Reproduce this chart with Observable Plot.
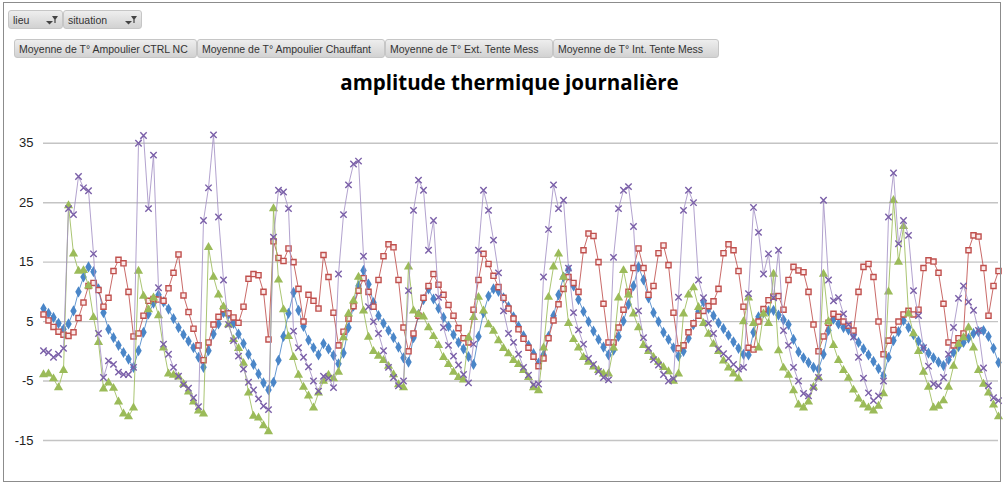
<!DOCTYPE html>
<html><head><meta charset="utf-8">
<script src="https://cdn.jsdelivr.net/npm/d3@7"></script>
<script src="https://cdn.jsdelivr.net/npm/@observablehq/plot@0.6"></script>
<style>
body{margin:0;background:#fff;font-family:"Liberation Sans",Arial,sans-serif;}
#wrap{position:relative;width:1005px;height:486px;overflow:hidden;background:#fff;}
#frame{position:absolute;left:3px;top:2px;width:996px;height:478px;border:1px solid #8c8c8c;pointer-events:none;}
.btn{position:absolute;height:19px;line-height:18px;font-size:10.5px;color:#333;background:linear-gradient(#eeeeee,#d2d2d2);border:1px solid #c6c6c6;border-radius:3px;box-sizing:border-box;padding-left:4px;white-space:nowrap;overflow:hidden;}
.btn svg{position:absolute;right:3px;top:3px;}
#title{position:absolute;left:0;width:1019px;top:68px;text-align:center;font-family:"Open Sans","Liberation Sans",sans-serif;font-weight:bold;font-size:20.5px;color:#000;white-space:nowrap;}
#chart{position:absolute;left:0;top:100px;}
</style></head>
<body>
<div id="wrap">
  <div class="btn" style="left:8px;top:10px;width:55px;">lieu<svg width="14" height="12"><path d="M1 7 L4.5 10.5 L8 7Z" fill="#444"/><path d="M7 2 L13 2 L10.6 5.5 L10.6 9 L9.4 9 L9.4 5.5Z" fill="#444"/></svg></div>
  <div class="btn" style="left:63px;top:10px;width:79px;">situation<svg width="14" height="12"><path d="M1 7 L4.5 10.5 L8 7Z" fill="#444"/><path d="M7 2 L13 2 L10.6 5.5 L10.6 9 L9.4 9 L9.4 5.5Z" fill="#444"/></svg></div>
  <div id="legendRow"></div>
  <div id="title">amplitude thermique journalière</div>
  <div id="chart"></div>
  <div id="frame"></div>
</div>
<script>
const seriesNames = [
  "Moyenne de T° Ampoulier CTRL NC",
  "Moyenne de T° Ampoulier Chauffant",
  "Moyenne de T° Ext. Tente Mess",
  "Moyenne de T° Int. Tente Mess"
];
const yTicks = [-15, -5, 5, 15, 25, 35];

const ctrl = [
  7.2, 6.4, 5.7, 4.7, 3.7, 4.6, 6.8, 10, 12.5, 14.2,
  13.4, 10.5, 6.5, 3.7, 2.3, 1.0, -0.2, -1.3, -2.7, 0.1,
  3.2, 6.3, 8.1, 9.5, 8.3, 7.1, 5.5, 4.0, 2.8, 1.7,
  0.6, -1.0, -2.7, 0.1, 2.9, 4.6, 6.5, 6.2, 4.7, 2.9,
  1.3, -0.5, -2.2, -3.8, -5.3, -6.5, -5.2, -1.5, 2.5, 6.4,
  9.9, 6.9, 4.2, 1.9, 0.6, -0.6, 1.3, 0.4, -0.7, -2.1,
  -0.3, 4.0, 7.6, 11, 13.6, 11.3, 8.2, 6.0, 4.7, 3.5,
  2.3, 0.7, -1.1, -1.8, 2.3, 6.2, 8.7, 10.5, 8.8, 7.2,
  5.7, 4.2, 2.8, 1.5, 0.4, -0.9, -2.2, 2.5, 6.5, 9.3,
  10.5, 10.1, 9.0, 7.5, 5.8, 4.2, 2.6, 1.0, -0.4, -2.0,
  -0.6, 2.5, 6.0, 9.5, 12.5, 13.8, 11, 8.7, 6.7, 5.0,
  3.4, 2.0, 0.7, -0.6, 0.2, 2.5, 5.1, 7.9, 11, 14.2,
  12, 9, 6.5, 5, 3.2, 2.0, 0.6, -0.8, 0.0, 2.2,
  4.5, 6.7, 8.3, 7.2, 6, 4.8, 3.8, 2.7, 1.6, 0.5,
  -0.5, -0.6, 3.2, 5.8, 6.5, 6.8, 6.9, 6.1, 5.3, 4.5,
  2.0, -0.1, -1.1, -1.9, -2.7, -3.0, -0.5, 3.5, 5.4, 4.6,
  4.0, 3.6, 2.7, 1.5, 0.4, -0.6, -1.7, -2.9, -4.1, -1.0,
  1.8, 3.3, 5.2, 4.0, 2.8, 1.7, 0.6, -0.3, -1.1, -1.8,
  -2.4, -1.4, -0.2, 0.8, 1.5, 2.2, 3.0, 3.3, 3.5, 2.5,
  0.5, -1.9
];
const chauffant = [
  6.2, 5.2, 4.1, 3.3, 2.8, 2.6, 3.2, 5.6, 8.2, 11,
  11.5, 10.3, 7.5, 9, 13.5, 15.4, 14.8, 10, 2.5, 3,
  6, 8.5, 8.8, 8.7, 8.5, 10.6, 13.2, 16.3, 9.4, 6.6,
  3.8, 1.0, -1.5, 1.5, 4.5, 5.8, 7.1, 6.4, 5.7, 4.8,
  7.5, 12.2, 13.0, 12.8, 10, 2, 18.5, 15.7, 15.2, 17.3,
  15, 10.5, 5, 9.5, 8.5, 7.2, 16.2, 12.5, 6.5, 1,
  3.3, 5.5, 7.6, 10.2, 12.3, 10, 7.5, 12, 16, 18,
  17.5, 12, 4, 0, 3, 6, 9, 11, 13, 11.2,
  9.5, 7.8, 6, 3.9, 2.2, 1.5, 7, 12, 16.4, 14.7,
  12.7, 10.8, 9.0, 7.2, 5.5, 3.7, 2.1, 0.6, -0.9, -2.5,
  -1.2, 2.2, 5.2, 7.9, 10.5, 12.5, 11.5, 10, 17, 19.8,
  19.4, 15, 8, 1.5, 1.5, 4, 7, 10, 14, 17.3,
  14, 9.5, 11, 16.5, 17.8, 14.5, 6.5, 0.5, 1, 3.2,
  4.7, 6, 6.8, 7.6, 8.4, 10.5, 16.5, 18, 17, 13.5,
  7.5, 0.6, 0.3, 5, 7.1, 8.6, 9.2, 9.3, 7, 12,
  14.2, 13.6, 13.3, 10, 4.5, 0, 2.5, 4.8, 6.3, 5.8,
  5, 4.3, 3.5, 10, 14.2, 14.7, 12.5, 5, -0.5, 1.8,
  3.6, 5, 6.2, 6.8, 6.2, 7, 14, 15.3, 15.1, 13.2,
  8, 1.5, 1, 2.2, 3, 17, 19.5, 19.3, 14, 6,
  11, 13.5
];
const ext = [
  -3.9, -3.8, -4.6, -6.1, -3.2, 24.5, 16.4, 13.5, 13.6, 11,
  5.7, 1.5, -6.3, -5.3, -6.2, -8.5, -10.5, -11, -9.5, 13.5,
  9.3, 7.0, 9.0, 6.0, 0.6, -3.8, -4, -4.3, -5.5, -6.8,
  -8.5, -10, -10.5, 17.5, 12.5, 9.5, 7.5, 4.5, 2, 0.5,
  -2, -7, -10.9, -11.2, -12.5, -13.5, 24, 12, 7, 2.5,
  -1, -4, -6, -7.5, -9.5, -7, -5, -4, -4.6, -3.5,
  2.3, 6.3, 8.5, 12.5, 6.8, 2.4, 0.0, -0.8, -1.5, -2.5,
  -3.9, -5.6, -6.1, 14.2, 6.8, 6.2, 5.8, 4.0, 2.5, 1.0,
  -1, -2.2, -3.5, -4.4, -4.8, 2.3, 5.7, 9.1, 6.8, 4.5,
  3.4, 1.8, 0.5, -0.4, -1.5, -2.2, -3.2, -4.4, -6.1, -6.6,
  0.6, 9.1, 14.2, 16.4, 12.5, 4.7, 2.0, 0.6, -1, -1.8,
  -2.6, -3.2, -3.8, -3.8, 0.6, 9, 13.6, 9.5, 6.3, 4,
  1, 0, -1, -1.8, -2.7, -3.4, -5, -3.8, 6.3, 9.5,
  10.7, 7.4, 4.7, 2.9, 1.2, 0, -1.6, -2.8, -3.8, -4.6,
  5, 9, 4.7, 0.6, 6.3, 4.7, 13, 0.1, -2.8, -4,
  -6.6, -9, -9.5, -8.5, -6, -4.4, 13, 5, 1, -1.5,
  -3.2, -4.5, -6.5, -8, -9, -9.5, -10, -9.2, -7.1, 10,
  25.4, 15, 21, 6.3, 3, 0, -3.5, -6, -9.5, -9.2,
  -8.3, -6, -2.5, 1.2, 2.3, 4.0, 0.6, -3.2, -5.5, -7,
  -9, -11
];
const interieur = [
  0.1, -0.2, -1, -0.5, 0.5, 24, 23, 29.4, 27.5, 27,
  16.4, 3, -4.4, -1.6, -2.2, -3.5, -3.9, -3.9, -2.7, 35,
  36.3, 24, 33, 10.7, 1.2, -0.5, -2.7, -4.2, -5.6, -6.2,
  -7.8, -9.3, 22, 27.5, 36.4, 22.6, 12, 4.5, 1.8, -0.8,
  -3, -5.2, -6.5, -8, -9.2, -9.8, 19.2, 27.1, 26.8, 24,
  3.4, 0.6, -1, -2.6, -5, -6.7, -4.2, -4.5, -6.1, 13,
  23, 28, 31.5, 32, 16, 7.5, 5.0, 3, 0.1, -2.7,
  -4.4, -5.8, -5, 10.2, 23.7, 28.8, 27.1, 17, 22, 9.1,
  4, 1, -0.8, -2.3, -3.9, -5.3, 1.2, 17, 27.1, 23.7,
  18.7, 13.2, 6.8, 3, 1.5, -0.5, -2.7, -4, -5.6, -5.5,
  12.5, 20.5, 28, 24, 25.4, 14, 6.5, 3.6, 1.2, -1.2,
  -2.2, -3.4, -4.4, -4.8, 15.8, 24, 27.1, 27.7, 21, 6.8,
  2.3, 0.5, -1.4, -2.3, -3.9, -5, -4.6, 9.1, 23.7, 27.1,
  25, 12, 9, 4.7, 3, 0.4, -0.4, -1.2, -2.2, -3,
  -2.7, 9.7, 24.2, 20, 13, 16.4, 9, 17, 3.5, 1,
  -2.7, -5, -7.1, -7.5, -6.1, -4.4, 25.4, 12, 8.5, 9,
  6.3, 4.5, 2.4, -1, -4.5, -7, -8.3, -7.5, -5, 22.6,
  30, 18.1, 22, 19.5, 10.2, 6, 0.6, -2.5, -5.5, -5.8,
  -4.4, -0.5, 4, 8.9, 11, 8.3, 6.9, 3.5, -2.8, -5.8,
  -7.8, -8.3
];

// field buttons (Excel pivot chart legend row)
const btnLefts = [14, 197, 385, 553];
const btnWidths = [183, 188, 168, 166];
const row = document.getElementById("legendRow");
seriesNames.forEach((n, k) => {
  const b = document.createElement("div");
  b.className = "btn";
  b.style.left = btnLefts[k] + "px";
  b.style.top = "39px";
  b.style.width = btnWidths[k] + "px";
  b.textContent = n;
  row.appendChild(b);
});

const steps = d3.range(ctrl.length);
const series = [
  {values: ctrl, line: "#4a86c8", symbol: "diamond", fill: "#4a86c8", stroke: "none", r: 3.4, sw: 0},
  {values: chauffant, line: "#c0504d", symbol: "square", fill: "#fbeaea", stroke: "#c0504d", r: 2.9, sw: 1.4},
  {values: ext, line: "#9bbb59", symbol: "triangle", fill: "#9bbb59", stroke: "none", r: 3.4, sw: 0},
  {values: interieur, line: "#a592c6", symbol: "times", fill: "none", stroke: "#7a5fa8", r: 3.0, sw: 1.4}
];

const marks = [Plot.ruleY(yTicks, {stroke: "#c4c4c4", strokeWidth: 1.4})];
series.forEach(s => {
  marks.push(Plot.line(steps, {x: i => i, y: i => s.values[i], stroke: s.line, strokeWidth: 1, strokeOpacity: 0.85}));
  marks.push(Plot.dot(steps, {x: i => i, y: i => s.values[i], symbol: () => s.symbol, r: s.r, fill: s.fill, stroke: s.stroke, strokeWidth: s.sw}));
});
marks.push(Plot.axisY({ticks: yTicks, tickSize: 0, tickPadding: 10, tickFormat: d => String(d), label: null, fill: "#222"}));

const chart = Plot.plot({
  width: 1005,
  height: 386,
  marginLeft: 43,
  marginRight: 7,
  marginTop: 13,
  marginBottom: 46,
  x: {domain: [0, steps.length - 1], axis: null},
  y: {domain: [-15, 40]},
  symbol: {type: "identity"},
  style: {fontFamily: "Liberation Sans, Arial, sans-serif", fontSize: "13px", background: "transparent", overflow: "visible"},
  marks
});
document.getElementById("chart").appendChild(chart);
</script>
</body></html>
